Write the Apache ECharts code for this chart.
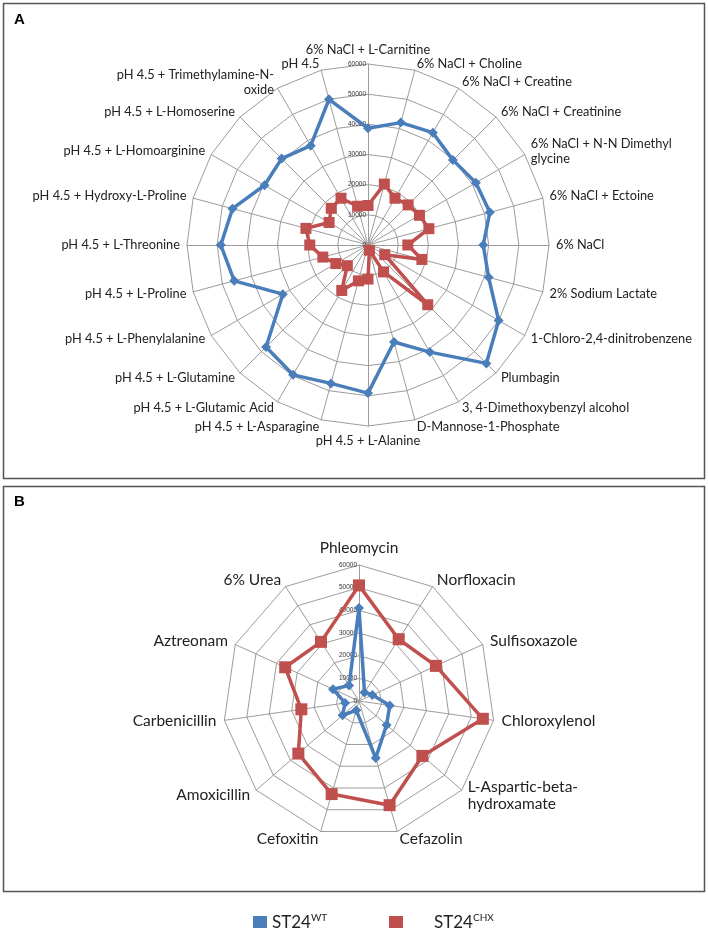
<!DOCTYPE html>
<html>
<head>
<meta charset="utf-8">
<script src="https://cdn.jsdelivr.net/npm/echarts@6/dist/echarts.min.js"></script>
<style>
html,body{margin:0;padding:0;background:#fff;}
#chart{width:708px;height:928px;}
</style>
</head>
<body>
<div id="chart"></div>
<script>
// ---------- Panel A data (clockwise from top) ----------
const catsA = [
  '6% NaCl + L-Carnitine', '6% NaCl + Choline', '6% NaCl + Creatine', '6% NaCl + Creatinine',
  '6% NaCl + N-N Dimethyl\nglycine', '6% NaCl + Ectoine', '6% NaCl', '2% Sodium Lactate',
  '1-Chloro-2,4-dinitrobenzene', 'Plumbagin', '3, 4-Dimethoxybenzyl alcohol', 'D-Mannose-1-Phosphate',
  'pH 4.5 + L-Alanine', 'pH 4.5 + L-Asparagine', 'pH 4.5 + L-Glutamic Acid', 'pH 4.5 + L-Glutamine',
  'pH 4.5 + L-Phenylalanine', 'pH 4.5 + L-Proline', 'pH 4.5 + L-Threonine', 'pH 4.5 + Hydroxy-L-Proline',
  'pH 4.5 + L-Homoarginine', 'pH 4.5 + L-Homoserine', 'pH 4.5 + Trimethylamine-N-\noxide', 'pH 4.5'
];
const wtA = [38700, 42000, 43000, 39800, 41300, 41800, 38200, 41400, 50000, 55500, 41000, 33300,
             49100, 47500, 49700, 47800, 32600, 45900, 48800, 46500, 39600, 40500, 38000, 50000];
const chxA = [13100, 20900, 17900, 18800, 19700, 20900, 13200, 18500, 6400, 28000, 10300, 1800,
              11300, 12300, 17400, 9700, 12300, 15500, 19300, 21300, 14900, 17200, 17900, 13300];

// ---------- Panel B data (clockwise from top) ----------
const catsB = [
  'Phleomycin', 'Norfloxacin', 'Sulfisoxazole', 'Chloroxylenol', 'L-Aspartic-beta-\nhydroxamate',
  'Cefazolin', 'Cefoxitin', 'Amoxicillin', 'Carbenicillin', 'Aztreonam', '6% Urea'
];
const wtB = [41000, 4500, 6500, 13700, 16100, 26200, 4300, 9600, 6200, 12600, 8100];
const chxB = [51000, 32400, 37300, 55200, 37000, 47900, 42800, 35400, 25700, 35800, 31000];

// axis ticks
const axisMin = 0, axisMax = 60000, axisStep = 10000;

const seriesNames = ['ST24WT', 'ST24CHX'];
const BLUE = '#4a7ebb', RED = '#c0504d';

// ECharts radar lays indicators counter-clockwise; reorder so they run clockwise
function cw(arr) { const n = arr.length; const out = [arr[0]]; for (let i = n - 1; i >= 1; i--) out.push(arr[i]); return out; }

const FONT = 'Lato';
function makeRadar(center, radius, cats, fontSize, gap) {
  return {
    center: center, radius: radius, shape: 'polygon', startAngle: 90,
    splitNumber: (axisMax - axisMin) / axisStep,
    nameGap: gap,
    axisName: { color: '#222', fontFamily: FONT, fontSize: fontSize, lineHeight: fontSize + 2 },
    splitLine: { lineStyle: { color: '#9c9c9c', width: 1 } },
    splitArea: { show: false },
    axisLine: { lineStyle: { color: '#9c9c9c', width: 1 } },
    axisTick: { show: false },
    indicator: cw(cats).map(c => ({ name: c, min: axisMin, max: axisMax }))
  };
}

const option = {
  animation: false,
  backgroundColor: '#fff',
  textStyle: { fontFamily: FONT },
  title: [
    { text: 'A', left: 9, top: 7, textStyle: { fontFamily: 'Liberation Sans', fontWeight: 'bold', fontSize: 15, color: '#000' } },
    { text: 'B', left: 9, top: 489, textStyle: { fontFamily: 'Liberation Sans', fontWeight: 'bold', fontSize: 15, color: '#000' } }
  ],
  graphic: [
    { type: 'rect', shape: { x: 3.5, y: 3.5, width: 701, height: 475 }, style: { fill: 'none', stroke: '#555', lineWidth: 1.5 }, silent: true },
    { type: 'rect', shape: { x: 3.5, y: 486.5, width: 701, height: 405 }, style: { fill: 'none', stroke: '#555', lineWidth: 1.5 }, silent: true }
  ],
  radar: [
    makeRadar([368, 245], 181, catsA, 12.8, 7),
    makeRadar([359, 701], 136, catsB, 15.5, 8)
  ],
  polar: [{ center: [368, 245], radius: 181 }, { center: [359, 701], radius: 136 }],
  angleAxis: [
    { polarIndex: 0, type: 'value', startAngle: 90, show: false },
    { polarIndex: 1, type: 'value', startAngle: 90, show: false }
  ],
  radiusAxis: [0, 1].map(i => ({
    polarIndex: i, type: 'value', min: axisMin, max: axisMax, interval: axisStep,
    axisLine: { show: false }, axisTick: { show: false }, splitLine: { show: false },
    axisLabel: { fontSize: 6.5, color: '#333', fontFamily: 'Liberation Sans Narrow, Liberation Sans', margin: 2,
                 align: 'right', formatter: v => String(v) }
  })),
  legend: [
    { data: [seriesNames[0]], left: 248, top: 908, icon: 'rect', itemWidth: 14, itemHeight: 14, itemGap: 0,
      formatter: () => '{a|ST24}{b|WT}',
      textStyle: { rich: { a: { fontSize: 17, fontFamily: FONT, color: '#222' }, b: { fontSize: 10, fontFamily: FONT, color: '#222', padding: [0, 0, 10, 0] } } } },
    { data: [seriesNames[1]], left: 384, top: 908, icon: 'rect', itemWidth: 14, itemHeight: 14, itemGap: 0,
      formatter: () => '{a|ST24}{b|CHX}',
      textStyle: { rich: { a: { fontSize: 17, fontFamily: FONT, color: '#222', padding: [0, 0, 0, 26] }, b: { fontSize: 10, fontFamily: FONT, color: '#222', padding: [0, 0, 10, 0] } } } }
  ],
  series: [
    { type: 'radar', radarIndex: 0, z: 3,
      data: [{ name: seriesNames[0], value: cw(wtA), symbol: 'diamond', symbolSize: 10,
               itemStyle: { color: BLUE }, lineStyle: { color: BLUE, width: 3.5 } }] },
    { type: 'radar', radarIndex: 0, z: 4,
      data: [{ name: seriesNames[1], value: cw(chxA), symbol: 'rect', symbolSize: 11,
               itemStyle: { color: RED }, lineStyle: { color: RED, width: 3.5 } }] },
    { type: 'radar', radarIndex: 1, z: 3,
      data: [{ name: seriesNames[0], value: cw(wtB), symbol: 'diamond', symbolSize: 10,
               itemStyle: { color: BLUE }, lineStyle: { color: BLUE, width: 3.5 } }] },
    { type: 'radar', radarIndex: 1, z: 4,
      data: [{ name: seriesNames[1], value: cw(chxB), symbol: 'rect', symbolSize: 12,
               itemStyle: { color: RED }, lineStyle: { color: RED, width: 3.5 } }] }
  ]
};

const chart = echarts.init(document.getElementById('chart'), null, { renderer: 'canvas' });
chart.setOption(option);
</script>
</body>
</html>
